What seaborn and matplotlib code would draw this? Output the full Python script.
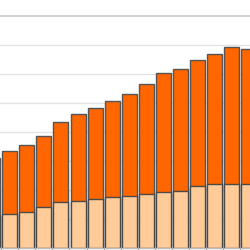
import matplotlib
matplotlib.use("Agg")
import matplotlib.pyplot as plt
import seaborn as sns
import pandas as pd

categories = [f"C{i}" for i in range(16)]
totals = [312, 334, 356, 388, 434, 461, 482, 506, 531, 567, 602, 618, 649, 670, 693, 687]
base = [111, 117, 124, 141, 159, 164, 170, 176, 180, 187, 193, 196, 214, 221, 222, 221]

df = pd.DataFrame({"cat": categories, "total": totals, "base": base})

sns.set_style("white")
fig = plt.figure(figsize=(2.5, 2.5), dpi=100)

px_per_cat = 17.05
n_vis = 250 / px_per_cat
xmin = 0.425
xmax = xmin + n_vis
px_per_unit = 0.2904
y0 = 1.7
ymin = 0
ymax = (250 - y0) / px_per_unit
ax = fig.add_axes([0, y0 / 250, 1, 1 - y0 / 250])

for v in range(100, 800, 100):
    ax.axhline(v, color="#e3e3e3", lw=1.0, zorder=0)
ax.axhline(800, color="#c9c9c9", lw=1.2, zorder=0)

sns.barplot(data=df, x="cat", y="total", order=categories, color="#FF6600",
            saturation=1, width=0.88, edgecolor="#555555", linewidth=1.0, ax=ax, zorder=2)
sns.barplot(data=df, x="cat", y="base", order=categories, color="#FFCC99",
            saturation=1, width=0.88, edgecolor="#4a4a4a", linewidth=1.0, ax=ax, zorder=3)

ax.set_xticks([i + 0.5 for i in range(-1, 16)])
ax.set_xticklabels([])
ax.set_yticks([])
ax.set_xlim(xmin, xmax)
ax.set_ylim(ymin, ymax)
ax.set_xlabel("")
ax.set_ylabel("")
ax.tick_params(axis="x", direction="out", length=1.5, width=0.8, color="#888888", bottom=True)
for s in ["top", "right", "left"]:
    ax.spines[s].set_visible(False)
ax.spines["bottom"].set_color("#bbbbbb")
ax.spines["bottom"].set_linewidth(1.0)
ax.spines["bottom"].set_zorder(4)

fig.savefig("out.png", dpi=100)
